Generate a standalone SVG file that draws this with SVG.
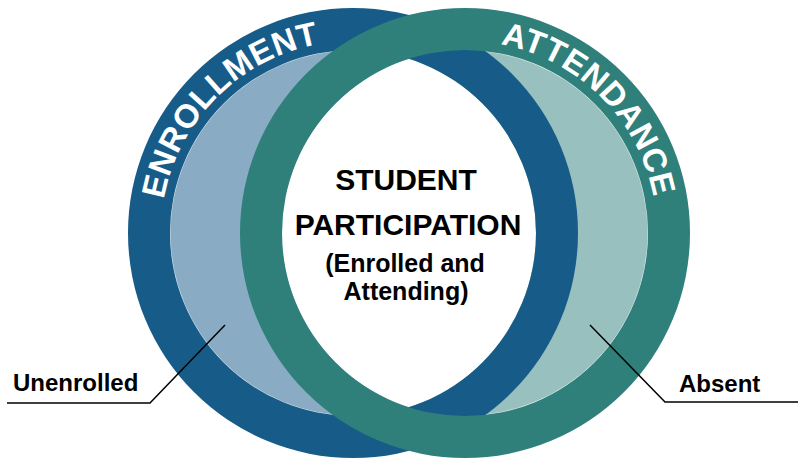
<svg xmlns="http://www.w3.org/2000/svg" width="798" height="459" viewBox="0 0 798 459">
  <style>
    .band-text { font-family: "Liberation Sans", Arial, sans-serif; font-weight: bold; font-size: 33px; fill: #ffffff; letter-spacing: 0.5px; }
    .core-title { font-family: "Liberation Sans", Arial, sans-serif; font-weight: bold; font-size: 30px; fill: #000000; text-anchor: middle; }
    .core-sub { font-family: "Liberation Sans", Arial, sans-serif; font-weight: bold; font-size: 25px; fill: #000000; text-anchor: middle; }
    .label { font-family: "Liberation Sans", Arial, sans-serif; font-weight: bold; font-size: 24px; fill: #000000; }
    .leader { fill: none; stroke: #000000; stroke-width: 1.5; }
  </style>
  <defs>
    <clipPath id="enrollInner">
      <circle cx="353" cy="233" r="183"/>
    </clipPath>
    <!-- baseline arcs for the curved ring titles -->
    <path id="enrollArc" d="M 161 233 A 192 192 0 0 1 353 41"/>
    <path id="attendArc" d="M 465 41 A 192 192 0 0 1 657 233"/>
  </defs>

  <rect width="798" height="459" fill="#ffffff"/>

  <!-- inner fills of both rings -->
  <g id="fills">
    <circle id="unenrolled-area" cx="353" cy="233" r="183" fill="#89acc4" stroke="#ffffff" stroke-opacity="0.6" stroke-width="1"/>
    <circle id="absent-area" cx="465" cy="233" r="183" fill="#98c0be" stroke="#ffffff" stroke-opacity="0.6" stroke-width="1"/>
    <circle id="participation-area" cx="465" cy="233" r="183" fill="#ffffff" clip-path="url(#enrollInner)"/>
  </g>

  <!-- Enrollment ring -->
  <g id="enrollment">
    <path fill="#175c88" fill-rule="evenodd" d="M 128 233 a 225 225 0 1 0 450 0 a 225 225 0 1 0 -450 0 Z M 170 233 a 183 183 0 1 0 366 0 a 183 183 0 1 0 -366 0 Z"/>
    <text class="band-text"><textPath href="#enrollArc" startOffset="50%" text-anchor="middle">ENROLLMENT</textPath></text>
  </g>

  <!-- Attendance ring -->
  <g id="attendance">
    <path fill="#2f7f7b" fill-rule="evenodd" d="M 240 233 a 225 225 0 1 0 450 0 a 225 225 0 1 0 -450 0 Z M 282 233 a 183 183 0 1 0 366 0 a 183 183 0 1 0 -366 0 Z"/>
    <text class="band-text"><textPath href="#attendArc" startOffset="50%" text-anchor="middle">ATTENDANCE</textPath></text>
  </g>

  <!-- centre text -->
  <g id="student-participation">
    <text class="core-title" x="406" y="190">STUDENT</text>
    <text class="core-title" x="408" y="235">PARTICIPATION</text>
    <text class="core-sub" x="405" y="272">(Enrolled and</text>
    <text class="core-sub" x="406" y="300">Attending)</text>
  </g>

  <!-- callout leaders -->
  <g id="connectors">
    <polyline class="leader" points="225,325 150,403 7,403"/>
    <polyline class="leader" points="590,325 665,402 798,402"/>
  </g>

  <g id="label-unenrolled">
    <text class="label" x="13" y="391">Unenrolled</text>
  </g>
  <g id="label-absent">
    <text class="label" x="679" y="392">Absent</text>
  </g>
</svg>
